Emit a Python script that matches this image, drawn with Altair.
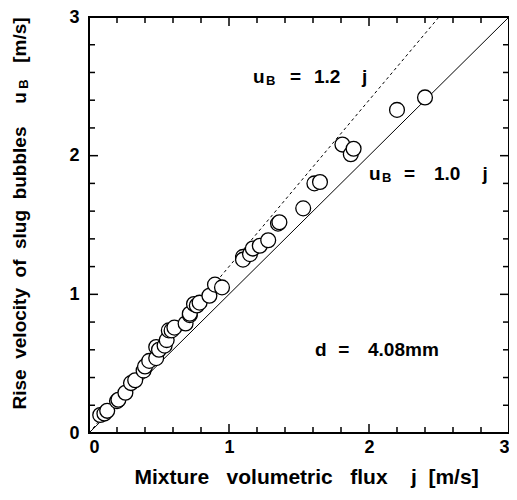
import altair as alt
import pandas as pd

# ---- data ----
j_vals = [0.08, 0.11, 0.13, 0.20, 0.21, 0.26, 0.30, 0.33, 0.39, 0.40, 0.43, 0.48,
          0.48, 0.50, 0.54, 0.555, 0.57, 0.59, 0.61, 0.69, 0.72, 0.72, 0.75, 0.77,
          0.79, 0.86, 0.90, 0.95, 1.10, 1.10, 1.15, 1.17, 1.22, 1.28, 1.35, 1.36,
          1.53, 1.61, 1.65, 1.81, 1.87, 1.89, 2.20, 2.40]
ub_vals = [0.13, 0.14, 0.16, 0.23, 0.24, 0.29, 0.36, 0.38, 0.45, 0.48, 0.52, 0.54,
           0.62, 0.60, 0.63, 0.67, 0.74, 0.74, 0.76, 0.79, 0.85, 0.86, 0.93, 0.92,
           0.94, 0.99, 1.07, 1.05, 1.27, 1.25, 1.29, 1.33, 1.35, 1.39, 1.51, 1.52,
           1.62, 1.80, 1.81, 2.08, 2.01, 2.05, 2.33, 2.42]

line_j_solid = [0.0, 3.0]
coef_solid = 1.0
line_j_dash = [0.0, 2.5]
coef_dash = 1.2

major_ticks = [0, 1, 2, 3]
minor_ticks = [0.2, 0.4, 0.6, 0.8, 1.2, 1.4, 1.6, 1.8, 2.2, 2.4, 2.6, 2.8]

# annotation pieces
ann_text = ["u", "B", "=", "1.2", "j",
            "u", "B", "=", "1.0", "j",
            "d", "=", "4.08mm"]
ann_x = [1.171, 1.264, 1.436, 1.607, 1.95,
         2.00, 2.093, 2.25, 2.464, 2.81,
         1.614, 1.78, 1.993]
ann_y = [2.569, 2.569, 2.569, 2.569, 2.569,
         1.866, 1.866, 1.866, 1.866, 1.866,
         0.596, 0.596, 0.596]
ann_sub = [False, True, False, False, False,
           False, True, False, False, False,
           False, False, False]

W, H = 420, 416
FONT = "Liberation Sans"
FS = 18

pts = pd.DataFrame({"j": j_vals, "u": ub_vals})
solid = pd.DataFrame({"j": line_j_solid, "u": [coef_solid * v for v in line_j_solid]})
dash = pd.DataFrame({"j": line_j_dash, "u": [coef_dash * v for v in line_j_dash]})
ann = pd.DataFrame({"t": ann_text, "j": ann_x, "u": ann_y, "sub": ann_sub})

xs = alt.Scale(domain=[0, 3], nice=False)
ys = alt.Scale(domain=[0, 3], nice=False)

xaxis = alt.Axis(values=major_ticks, title=None, grid=False, domain=False, ticks=False,
                 labelFont=FONT, labelFontWeight="bold", labelFontSize=FS,
                 labelColor="black", labelPadding=5, format="d")
yaxis = alt.Axis(values=major_ticks, title=None, grid=False, domain=False, ticks=False,
                 labelFont=FONT, labelFontWeight="bold", labelFontSize=FS,
                 labelColor="black", labelPadding=10, format="d")

base_axes = alt.Chart(pts).mark_point(opacity=0).encode(
    x=alt.X("j:Q", scale=xs, axis=xaxis),
    y=alt.Y("u:Q", scale=ys, axis=yaxis),
)

l_solid = alt.Chart(solid).mark_line(color="black", strokeWidth=1, clip=True).encode(
    x=alt.X("j:Q", scale=xs), y=alt.Y("u:Q", scale=ys))
l_dash = alt.Chart(dash).mark_line(color="black", strokeWidth=1, strokeDash=[3, 3], clip=True).encode(
    x=alt.X("j:Q", scale=xs), y=alt.Y("u:Q", scale=ys))

circles = alt.Chart(pts).mark_point(shape="circle", filled=False, fill="white", fillOpacity=1,
                                    stroke="black", strokeWidth=1.3, size=220, opacity=1).encode(
    x=alt.X("j:Q", scale=xs), y=alt.Y("u:Q", scale=ys))


def tick_layers(vals, length):
    df = pd.DataFrame({"v": vals})
    c = alt.Chart(df).mark_rule(color="black", strokeWidth=1.5)
    bottom = c.encode(x=alt.X("v:Q", scale=xs), y=alt.value(H), y2=alt.value(H - length))
    top = c.encode(x=alt.X("v:Q", scale=xs), y=alt.value(0), y2=alt.value(length))
    left = c.encode(y=alt.Y("v:Q", scale=ys), x=alt.value(0), x2=alt.value(length))
    right = c.encode(y=alt.Y("v:Q", scale=ys), x=alt.value(W), x2=alt.value(W - length))
    return [bottom, top, left, right]


ticks = tick_layers(major_ticks, 9) + tick_layers(minor_ticks, 6)

ann_main = alt.Chart(ann).transform_filter("!datum.sub").mark_text(
    align="left", baseline="middle", font=FONT, fontWeight="bold", fontSize=19, color="black"
).encode(x=alt.X("j:Q", scale=xs), y=alt.Y("u:Q", scale=ys), text="t:N")
ann_subs = alt.Chart(ann).transform_filter("datum.sub").mark_text(
    align="left", baseline="middle", font=FONT, fontWeight="bold", fontSize=13, color="black", dy=4
).encode(x=alt.X("j:Q", scale=xs), y=alt.Y("u:Q", scale=ys), text="t:N")

NB = "\u00a0"
xtitle_df = pd.DataFrame({"t": [f"Mixture{NB*3}volumetric{NB*3}flux{NB*4}j{NB*2}[m/s]"]})
xtitle = alt.Chart(xtitle_df).mark_text(
    align="center", baseline="middle", font=FONT, fontWeight="bold", fontSize=21, color="black"
).encode(x=alt.value(217.5), y=alt.value(461), text="t:N")

yt_main = pd.DataFrame({"t": [f"Rise{NB*2}velocity{NB*2}of{NB*2}slug{NB*2}bubbles"]})
ytitle1 = alt.Chart(yt_main).mark_text(
    angle=270, align="center", baseline="middle", font=FONT, fontWeight="bold", fontSize=19, color="black"
).encode(x=alt.value(-69), y=alt.value(251), text="t:N")
ytitle_u = alt.Chart(pd.DataFrame({"t": ["u"]})).mark_text(
    angle=270, align="center", baseline="middle", font=FONT, fontWeight="bold", fontSize=19, color="black"
).encode(x=alt.value(-69), y=alt.value(81), text="t:N")
ytitle_b = alt.Chart(pd.DataFrame({"t": ["B"]})).mark_text(
    angle=270, align="center", baseline="middle", font=FONT, fontWeight="bold", fontSize=13, color="black"
).encode(x=alt.value(-65), y=alt.value(67), text="t:N")
ytitle_ms = alt.Chart(pd.DataFrame({"t": ["[m/s]"]})).mark_text(
    angle=270, align="center", baseline="middle", font=FONT, fontWeight="bold", fontSize=19, color="black"
).encode(x=alt.value(-69), y=alt.value(23), text="t:N")

chart = alt.layer(
    base_axes, l_solid, l_dash, circles, *ticks, ann_main, ann_subs,
    xtitle, ytitle1, ytitle_u, ytitle_b, ytitle_ms
).properties(
    width=W, height=H,
    autosize=alt.AutoSizeParams(type="none"),
    padding={"left": 81, "top": 9, "right": 0, "bottom": 59},
    background="white",
).configure_view(stroke="black", strokeWidth=2)

chart.save("out.html", embed_options={"renderer": "svg", "actions": False})
